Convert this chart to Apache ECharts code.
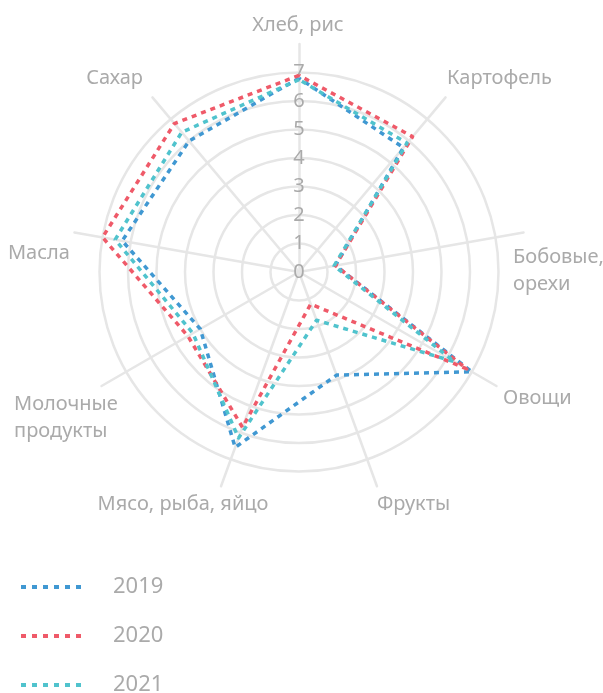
<!DOCTYPE html>
<html>
<head>
<meta charset="utf-8">
<script src="https://cdn.jsdelivr.net/npm/echarts@6/dist/echarts.min.js"></script>
<style>
html,body{margin:0;padding:0;background:#fff;}
#chart{width:603px;height:693px;}
</style>
</head>
<body>
<div id="chart"></div>
<script>
// Categories in clockwise order, starting at the top
const categories = ['Хлеб, рис', 'Картофель', 'Бобовые,\nорехи', 'Овощи', 'Фрукты', 'Мясо, рыба, яйцо', 'Молочные\nпродукты', 'Масла', 'Сахар'];
const years = ['2019', '2020', '2021'];
const values2019 = [6.8, 5.7, 1.3, 7.0, 3.85, 6.55, 4.0, 6.3, 6.0];
const values2020 = [6.9, 6.2, 1.3, 6.8, 1.2, 5.8, 4.5, 7.0, 6.8];
const values2021 = [6.75, 5.9, 1.25, 6.3, 1.8, 6.2, 4.3, 6.55, 6.4];
const tickLabels = ['0', '1', '2', '3', '4', '5', '6', '7'];

const colors = ['#4098d2', '#ef5a69', '#50c3cd'];
const gridColor = '#e6e6e6';
const textColor = '#aaaaaa';
const font = '"Noto Sans", "Open Sans", sans-serif';

// name placement per category (clockwise order): [align, dx, dy]
const namePlace = [
  ['center', -1, -32.5],
  ['left', 1.5, -33],
  ['left', -10.5, 11],
  ['left', 6.5, -1.5],
  ['left', 0, 5],
  ['center', -38, 5],
  ['left', -87.5, 4.5],
  ['right', -4.5, 7],
  ['right', -9.5, -33]
];

// ECharts radar places indicators counter-clockwise; reorder to get clockwise
const order = [0, 8, 7, 6, 5, 4, 3, 2, 1];
const reorder = arr => order.map(i => arr[i]);

function padFor(p) {
  const [align, dx, dy] = p;
  if (align === 'left') return [dy, 0, 0, dx];
  if (align === 'right') return [dy, -dx, 0, 0];
  return [dy, 0, 0, 2 * dx];
}

const outerIndicators = reorder(categories.map((c, i) => ({
  name: c, min: 0, max: 8,
  nameTextStyle: { align: namePlace[i][0], verticalAlign: 'top', padding: padFor(namePlace[i]) }
})));

const innerIndicators = reorder(categories.map((c, i) => {
  const o = { name: c, min: 0, max: tickLabels.length - 1 };
  if (i === 0) {
    o.axisLabel = {
      show: true, margin: 0, align: 'center', verticalAlign: 'middle',
      color: textColor, fontSize: 20, fontFamily: font,
      showMinLabel: true, showMaxLabel: true,
      formatter: v => tickLabels[Math.round(v)]
    };
  }
  return o;
}));

const seriesValues = [values2019, values2020, values2021];
const dashIcon = 'path://M0,0h5v4h-5z M11,0h5v4h-5z M22,0h5v4h-5z M33,0h5v4h-5z M44,0h5v4h-5z M55,0h5v4h-5z';

const chart = echarts.init(document.getElementById('chart'), null, { renderer: 'canvas' });
chart.setOption({
  backgroundColor: '#fff',
  animation: false,
  legend: {
    orient: 'vertical',
    left: 21,
    top: 576,
    height: 400,
    padding: 0,
    icon: dashIcon,
    itemWidth: 60,
    itemHeight: 4,
    itemGap: 27,
    data: years,
    itemStyle: { borderWidth: 0 },
    textStyle: { color: textColor, fontSize: 22, lineHeight: 22, fontFamily: font, padding: [0, 0, 0, 27] }
  },
  radar: [
    {
      center: [299, 272],
      radius: 228,
      startAngle: 90,
      shape: 'circle',
      splitNumber: 8,
      nameGap: 0,
      axisName: { color: textColor, fontSize: 20, lineHeight: 27, fontFamily: font },
      axisLine: { lineStyle: { color: gridColor, width: 2.5 } },
      splitLine: { show: false },
      splitArea: { show: false },
      axisTick: { show: false },
      indicator: outerIndicators
    },
    {
      center: [299, 272],
      radius: 199.5,
      startAngle: 90,
      shape: 'circle',
      splitNumber: 7,
      axisName: { show: false },
      axisLine: { show: false },
      splitLine: { lineStyle: { color: gridColor, width: 2.5 } },
      splitArea: { show: false },
      axisTick: { show: false },
      axisLabel: { show: false },
      indicator: innerIndicators
    }
  ],
  series: [{
    type: 'radar',
    radarIndex: 1,
    symbol: 'none',
    data: years.map((y, k) => ({
      name: y,
      value: reorder(seriesValues[k]),
      itemStyle: { color: colors[k] },
      lineStyle: { color: colors[k], width: 3.5, type: [5, 5] },
      areaStyle: null
    }))
  }]
});
</script>
</body>
</html>
